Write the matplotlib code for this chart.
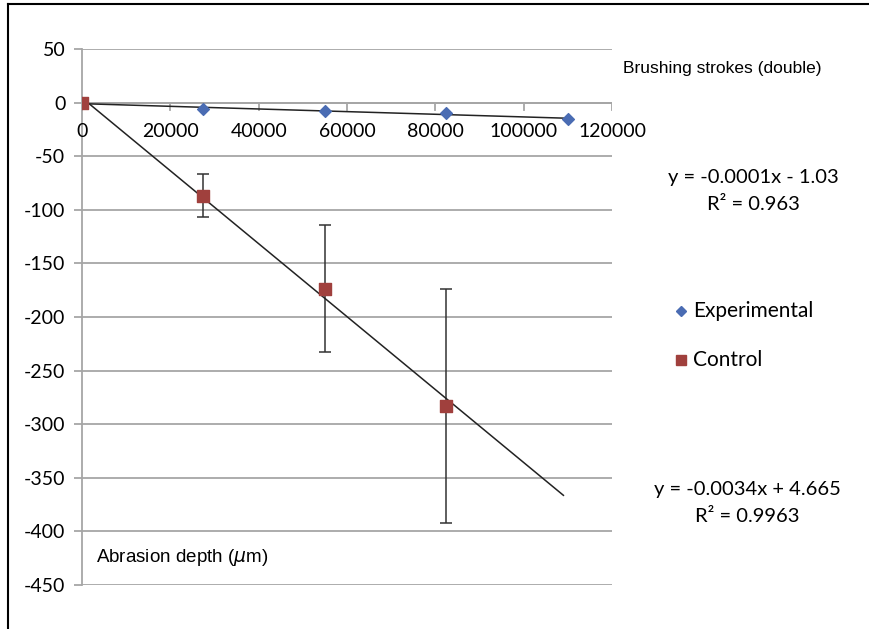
"""Abrasion depth vs brushing strokes, Excel-style scatter with trend lines."""

import numpy as np
import matplotlib

matplotlib.use("Agg")
import matplotlib.pyplot as plt
from matplotlib.lines import Line2D

plt.rcParams["axes.unicode_minus"] = False

# brushing strokes (double)
strokes = [0, 27500, 55000, 82500, 110000]
exp_depth = [0, -6, -8, -10, -15]

ctrl_strokes = [0, 27500, 55000, 82500]
ctrl_depth = [0, -87, -173.5, -283]
ctrl_err = [0, 20, 59, 109]

exp_eq = ["y = -0.0001x - 1.03", "R\u00b2 = 0.963"]
ctrl_eq = ["y = -0.0034x + 4.665", "R\u00b2 = 0.9963"]

BLUE = "#4a6cb3"
RED = "#a0403d"
GRID = "#a6a6a6"
CAL = ["Lato", "DejaVu Sans"]
ARIAL = ["Liberation Sans", "DejaVu Sans"]

W, H = 870, 629
fig = plt.figure(figsize=(W / 100, H / 100), dpi=100)
ax = fig.add_axes([82 / W, 1 - 585 / H, (612 - 82) / W, (585 - 49) / H])

ax.set_xlim(0, 120000)
ax.set_ylim(-450, 50)
ax.set_yticks(np.arange(-450, 51, 50))
ax.yaxis.grid(True, color=GRID, linewidth=1.3)
ax.set_axisbelow(True)

for side in ("top", "right", "bottom"):
    ax.spines[side].set_visible(False)
ax.spines["left"].set_color(GRID)
ax.spines["left"].set_linewidth(1.3)
ax.tick_params(axis="y", length=6, width=1.3, color=GRID, pad=6,
               labelsize=14)
for lab in ax.get_yticklabels():
    lab.set_family(CAL)

# x axis drawn at y = 0
ax.set_xticks([])
ax.axhline(0, color=GRID, linewidth=1.3, zorder=1)
for xt in range(0, 120001, 20000):
    ax.plot([xt, xt], [0, -7], color=GRID, linewidth=1.3, zorder=1)
    ax.text(xt, -27, str(xt), ha="center", va="center", fontsize=14,
            family=CAL)

# trend lines from least squares
pe = np.polyfit(strokes, exp_depth, 1)
pc = np.polyfit(ctrl_strokes, ctrl_depth, 1)
xe = np.array([0, 110000])
ax.plot(xe, np.polyval(pe, xe), color="#222222", linewidth=1.1, zorder=3)
xc = np.array([0, 109000])
ax.plot(xc, np.polyval(pc, xc), color="#222222", linewidth=1.1, zorder=3)

ax.errorbar(ctrl_strokes, ctrl_depth, yerr=ctrl_err, fmt="none",
            ecolor="#333333", elinewidth=1.1, capsize=4, capthick=1.1,
            zorder=2)
ax.scatter(strokes, exp_depth, marker="D", s=36, color=BLUE, zorder=4)
ax.scatter(ctrl_strokes, ctrl_depth, marker="s", s=80, color=RED, zorder=4)

# annotations
fig.text(623 / W, 1 - 68 / H, "Brushing strokes (double)", ha="left",
         va="center", fontsize=12.5, family=ARIAL)
fig.text(96 / W, 1 - 557 / H, "Abrasion depth ($\\mu$m)", ha="left",
         va="center", fontsize=13.5, family=ARIAL)
fig.text(753 / W, 1 - 177 / H, exp_eq[0], ha="center", va="center",
         fontsize=14.5, family=CAL)
fig.text(753 / W, 1 - 204 / H, exp_eq[1], ha="center", va="center",
         fontsize=14.5, family=CAL)
fig.text(747 / W, 1 - 490 / H, ctrl_eq[0], ha="center", va="center",
         fontsize=14.5, family=CAL)
fig.text(747 / W, 1 - 517 / H, ctrl_eq[1], ha="center", va="center",
         fontsize=14.5, family=CAL)

# legend
fig.add_artist(Line2D([681 / W], [1 - 311 / H], marker="D", markersize=5.5,
                      color=BLUE, linestyle="none"))
fig.text(693 / W, 1 - 311 / H, "Experimental", ha="left", va="center",
         fontsize=15, family=CAL)
fig.add_artist(Line2D([681 / W], [1 - 360 / H], marker="s", markersize=7,
                      color=RED, linestyle="none"))
fig.text(693 / W, 1 - 360 / H, "Control", ha="left", va="center",
         fontsize=15, family=CAL)

# frame on left and top only
fig.add_artist(Line2D([8 / W, 8 / W], [0, 1 - 4 / H], color="black",
                      linewidth=1.5))
fig.add_artist(Line2D([8 / W, 1], [1 - 4 / H, 1 - 4 / H], color="black",
                      linewidth=1.5))

fig.savefig("out.png", dpi=100)
